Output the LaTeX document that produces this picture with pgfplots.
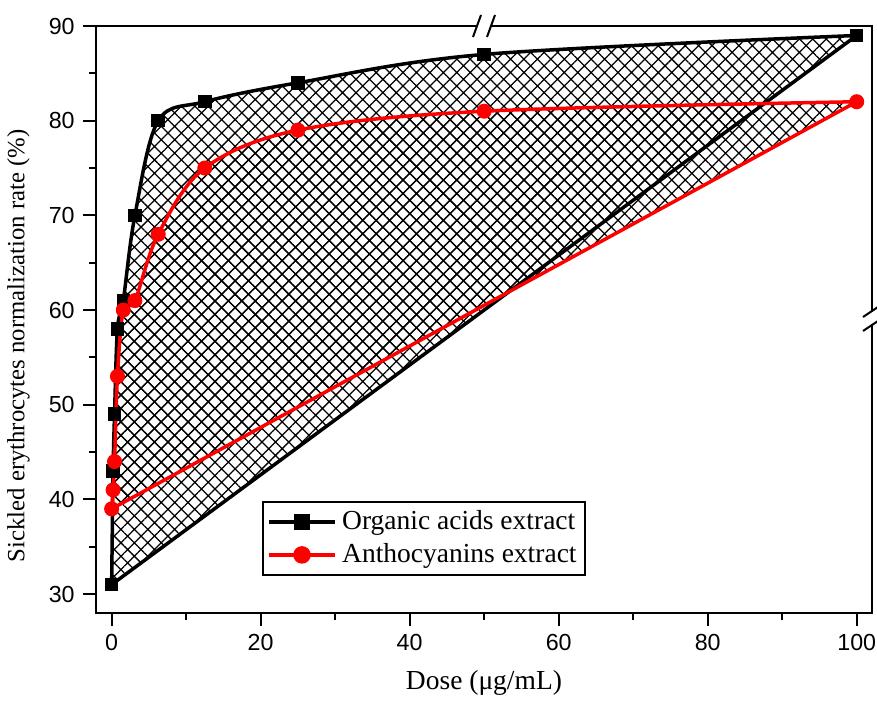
\documentclass[border=0pt]{standalone}
\usepackage{fontspec}
\setmainfont{Liberation Serif}
\newfontfamily\ticksans{Liberation Sans}
\usepackage{pgfplots}
\pgfplotsset{compat=1.18}
\usetikzlibrary{patterns.meta}

\begin{document}
\begin{tikzpicture}
  % page = 877x704 px at 0.4pt per px; axis box lower-left at (0,0)
  \path[use as bounding box] (-38.4pt,-36.4pt) rectangle (312.4pt,245.2pt);
  \begin{axis}[
    scale only axis, width=310.4pt, height=234.8pt,
    xmin=-2.1, xmax=102.05, ymin=28, ymax=90,
    xtick={0,20,...,100}, minor x tick num=1,
    ytick={30,40,...,90}, minor y tick num=1,
    xtick pos=left, ytick pos=left,
    tick align=outside, major tick length=5pt, minor tick length=2.8pt,
    axis line style={line width=0.8pt}, tick style={line width=0.8pt, black},
    /pgf/number format/assume math mode=true,
    tick label style={font=\ticksans\fontsize{9.3}{11}\selectfont},
    xlabel={Dose (μg/mL)}, ylabel={Sickled erythrocytes normalization rate (\%)},
    xlabel style={font=\fontsize{11}{13}\selectfont,
                  at={(axis description cs:0.5,-0.119)}, anchor=center},
    ylabel style={font=\fontsize{9.9}{12}\selectfont,
                  at={(axis description cs:-0.1,0.455)}, anchor=center},
    clip=false,
    legend style={at={(0.214,0.191)}, anchor=north west, draw=black,
                  line width=0.8pt, font=\fontsize{11}{13}\selectfont,
                  inner sep=1.5pt, row sep=0pt},
    legend cell align=left,
    legend image code/.code={
      \draw[#1, mark repeat=2, mark phase=2]
        plot coordinates {(0.2cm,0cm) (0.67cm,0cm) (1.14cm,0cm)};},
  ]
    % hatched regions of both series
    \addplot[black, line width=1.4pt, smooth, tension=0.55, mark=none,
      pattern={Hatch[angle=45, distance=3.8pt, line width=0.5pt]}, forget plot]
      coordinates {(0,31) (0.195,43) (0.39,49) (0.78,58) (1.5625,61) (3.125,70)
                   (6.25,80) (12.5,82) (25,84) (50,87) (100,89)} -- cycle;
    \addplot[red, line width=1.4pt, smooth, tension=0.55, mark=none,
      pattern={Hatch[angle=45, distance=3.8pt, line width=0.5pt]}, forget plot]
      coordinates {(0,39) (0.195,41) (0.39,44) (0.78,53) (1.5625,60) (3.125,61)
                   (6.25,68) (12.5,75) (25,79) (50,81) (100,82)} -- cycle;
    \addplot[black, only marks, mark=square*, mark size=2.5pt, forget plot]
      coordinates {(0,31) (0.195,43) (0.39,49) (0.78,58) (1.5625,61) (3.125,70)
                   (6.25,80) (12.5,82) (25,84) (50,87) (100,89)};
    \addplot[red, only marks, mark=*, mark size=2.8pt, forget plot]
      coordinates {(0,39) (0.195,41) (0.39,44) (0.78,53) (1.5625,60) (3.125,61)
                   (6.25,68) (12.5,75) (25,79) (50,81) (100,82)};
    \addlegendimage{black, line width=1.4pt, mark=square*, mark size=2.5pt}
    \addlegendentry{Organic acids extract}
    \addlegendimage{red, line width=1.4pt, mark=*, mark size=2.8pt, mark options={fill=red}}
    \addlegendentry{Anthocyanins extract}
    % axis break marks
    \fill[white] (rel axis cs:0.5,1) ++(-2.6pt,-1pt) rectangle ++(5.2pt,2pt);
    \draw[line width=0.8pt] (rel axis cs:0.5,1) ++(-4.4pt,-4.4pt) -- ++(3.2pt,8.8pt);
    \draw[line width=0.8pt] (rel axis cs:0.5,1) ++(1.2pt,-4.4pt) -- ++(3.2pt,8.8pt);
    \fill[white] (rel axis cs:1,0.5026) ++(-1pt,-2.4pt) rectangle ++(2pt,4.8pt);
    \draw[line width=0.8pt] (rel axis cs:1,0.5026) ++(-3.6pt,0.4pt) -- ++(7.2pt,4.8pt);
    \draw[line width=0.8pt] (rel axis cs:1,0.5026) ++(-3.6pt,-5.2pt) -- ++(7.2pt,4.8pt);
  \end{axis}
\end{tikzpicture}
\end{document}
